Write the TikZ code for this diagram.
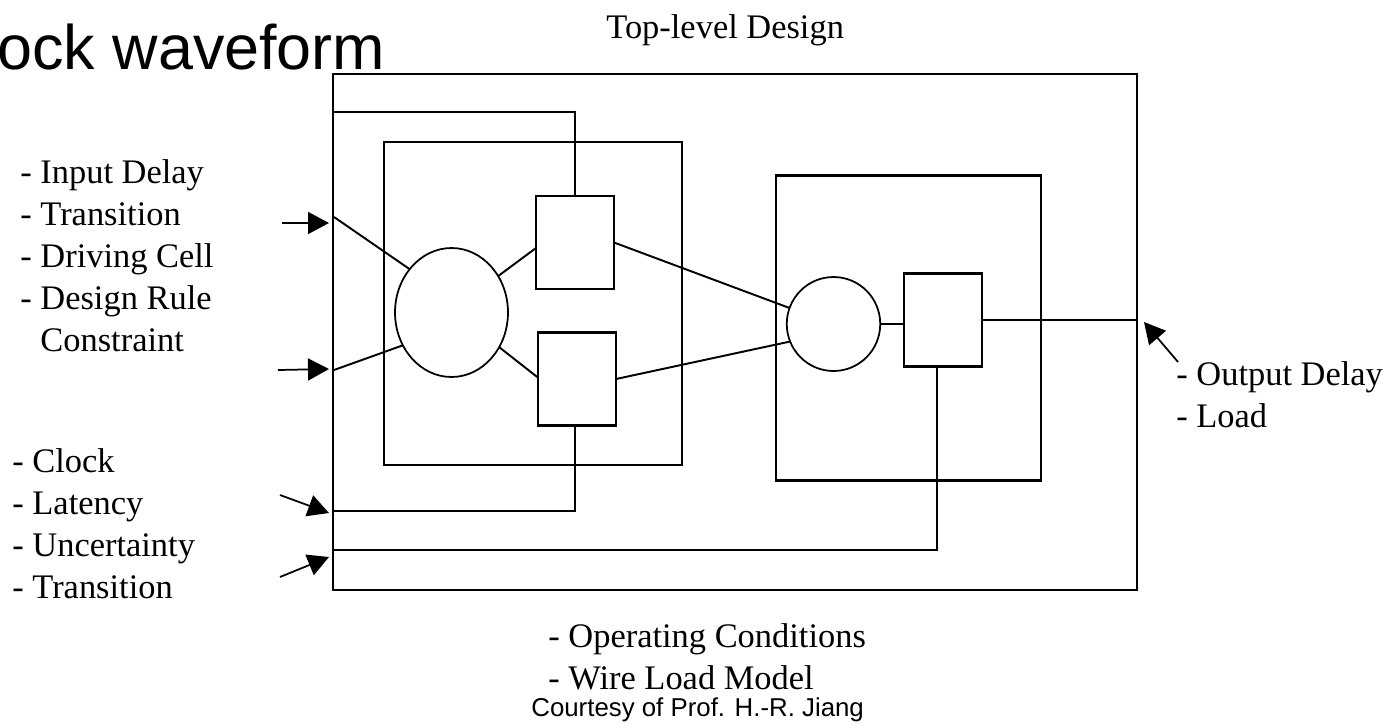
\documentclass[tikz,border=0pt]{standalone}
\usepackage{fontspec}
\setmainfont{Liberation Serif}
\newfontfamily\slidefont{Liberation Sans}
\usetikzlibrary{arrows.meta,shapes.geometric}
\tikzset{
    blockbox/.style={
        rectangle,
        draw=black,
        line width=1.2pt,
        inner sep=0pt,
        outer sep=0pt
    },
    cellbox/.style={blockbox, minimum width=1.56cm, minimum height=1.86cm},
    gatenode/.style={ellipse, draw=black, line width=1pt, inner sep=0pt, outer sep=0pt},
    wire/.style={draw=black, line width=1.1pt},
    pinarrow/.style={-{Triangle[length=0.42cm,width=0.44cm]}, draw=black, line width=1pt},
    constext/.style={inner sep=0pt, anchor=base west, align=left,
        font=\fontsize{19.6}{23.8}\selectfont},
}

\begin{document}
\begin{tikzpicture}[x=0.02cm, y=-0.02cm]
    \useasboundingbox (0,0) rectangle (1393,724);

    % blocks
    \node[blockbox, minimum width=16.08cm, minimum height=10.32cm] (top) at (735,332) {};
    \node[blockbox, minimum width=5.96cm, minimum height=6.46cm] (blkA) at (533,303.5) {};
    \node[blockbox, minimum width=5.3cm, minimum height=6.1cm] (blkB) at (908.5,328) {};
    \node[gatenode, minimum width=2.26cm, minimum height=2.58cm] (gateA) at (451.5,312.5) {};
    \node[cellbox] (ffA) at (575,242.5) {};
    \node[cellbox] (ffB) at (577,379) {};
    \node[gatenode, minimum width=1.87cm, minimum height=1.88cm] (gateB) at (833.5,324) {};
    \node[cellbox] (ffC) at (943,320) {};

    % ports on the top-level box
    \coordinate (inA) at (334,217);
    \coordinate (inB) at (334,370);
    \coordinate (clkTop) at (334,112);
    \coordinate (clkA) at (334,511);
    \coordinate (clkB) at (334,550);

    % wires
    \draw[wire] (clkTop) -| (ffA.north);
    \draw[wire] (inA) -- (gateA.134);
    \draw[wire] (inB) -- (gateA.214);
    \draw[wire] (gateA.38) -- (ffA.188);
    \draw[wire] (gateA.324) -- (ffB.178);
    \draw[wire] (ffA.east) -- (gateB.160);
    \draw[wire] (ffB.east) -- (gateB.202);
    \draw[wire] (gateB.east) -- (gateB.east -| ffC.west);
    \draw[wire] (ffC.east) -- (ffC.east -| top.east);
    \draw[wire] (ffB.-92) |- (clkA);
    \draw[wire] (ffC.-97) |- (clkB);

    % constraint arrows
    \coordinate (drvA) at (282,223);
    \coordinate (drvAtip) at (329,223);
    \coordinate (drvB) at (278,370);
    \coordinate (drvBtip) at (329,369);
    \coordinate (clkSrcA) at (280,495);
    \coordinate (clkSrcAtip) at (329,513);
    \coordinate (clkSrcB) at (280,577);
    \coordinate (clkSrcBtip) at (329,557);
    \coordinate (loadSrc) at (1178,362);
    \coordinate (loadTip) at (1144,322);
    \draw[pinarrow] (drvA) -- (drvAtip);
    \draw[pinarrow] (drvB) -- (drvBtip);
    \draw[pinarrow] (clkSrcA) -- (clkSrcAtip);
    \draw[pinarrow] (clkSrcB) -- (clkSrcBtip);
    \draw[pinarrow] (loadSrc) -- (loadTip);

    % texts (base anchor sits on the last line)
    \node[anchor=base west, inner sep=0pt, font=\slidefont\fontsize{35.8}{40}\selectfont] (slidetitle) at (-3,69) {ock waveform};
    \node[constext] (designlbl) at (606,38) {Top-level Design};
    \node[constext] (inputlbl) at (20,351) {- Input Delay\\- Transition\\- Driving Cell\\- Design Rule\\\hphantom{- }Constraint};
    \node[constext] (clocklbl) at (12,598) {- Clock\\- Latency\\- Uncertainty\\- Transition};
    \node[constext] (outputlbl) at (1176,427) {- Output Delay\\- Load};
    \node[constext] (envlbl) at (548,689) {- Operating Conditions\\- Wire Load Model};
    \node[anchor=base west, inner sep=0pt, font=\slidefont\fontsize{14.7}{17}\selectfont] (credit) at (531,716) {Courtesy of Prof. H.-R. Jiang};
\end{tikzpicture}
\end{document}
